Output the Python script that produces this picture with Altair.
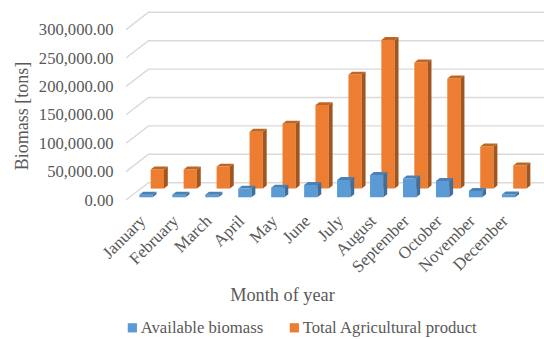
import altair as alt
import pandas as pd

months = ["January", "February", "March", "April", "May", "June", "July",
          "August", "September", "October", "November", "December"]
available_biomass = [4700, 4700, 4700, 15300, 17000, 21800, 30600, 39400, 33000, 28900, 11300, 5000]
total_agricultural = [33500, 33500, 38700, 100000, 114000, 147000, 200700, 261600, 222000, 193700, 74000, 40500]
grid_values = [0, 50000, 100000, 150000, 200000, 250000, 300000]

series_names = ["Available biomass", "Total Agricultural product"]
front_colors = ["#5B9BD5", "#ED7D31"]
top_colors = ["#4A82B6", "#C2651F"]
side_colors = ["#3F6F9C", "#A0561E"]

# Oblique projection: one unit of depth moves a point right and up the chart
DEPTH_X = 0.683      # months
DEPTH_Y = 30500      # tons
BAR_WIDTH = 0.404    # months
BAR_DEPTH = 0.17     # fraction of the floor depth
series_depth = {"Available biomass": 0.156, "Total Agricultural product": 0.66}

x_scale = alt.Scale(domain=[0, 12 + DEPTH_X], range=[0, 418], nice=False, zero=False)
y_scale = alt.Scale(domain=[0, 331000], range=[188, 0], nice=False, zero=False)
FONT = "Liberation Serif"
INK = "#595959"

# Month axis under the floor, value axis on the front edge
x_axis = alt.Axis(
    values=[i + 0.5 for i in range(12)],
    labelExpr="{0}[floor(datum.value)]".format(str(months)),
    labelAngle=-45, labelAlign="right", labelBaseline="middle",
    labelFont=FONT, labelFontSize=17, labelColor=INK, labelPadding=18, labelOffset=0,
    labelOverlap=False, labelBound=False, labelFlush=False,
    domain=False, ticks=False, grid=False,
    titleFont=FONT, titleFontSize=18.3, titleFontWeight="normal", titleColor=INK,
    titleX=156, titleY=95, titleAlign="center", titleBaseline="middle",
)
y_axis = alt.Axis(
    values=grid_values, format=",.2f",
    labelFont=FONT, labelFontSize=16.6, labelColor=INK, labelPadding=13,
    domain=False, ticks=False, grid=False,
    titleFont=FONT, titleFontSize=18, titleFontWeight="normal", titleColor=INK,
    titleX=-104, titleY=103.5, titleAlign="center", titleBaseline="middle",
)


def faces(name, values):
    """Front, top and side faces of one series, in data units."""
    d0 = series_depth[name]
    d1 = d0 + BAR_DEPTH
    front, top, side = [], [], []
    for i, v in enumerate(values):
        left = i + 0.5 - BAR_WIDTH / 2 + d0 * DEPTH_X
        right = left + BAR_WIDTH
        shift_x = BAR_DEPTH * DEPTH_X
        base0, base1 = d0 * DEPTH_Y, d1 * DEPTH_Y
        front.append(dict(series=name, x=left, x2=right, y=base0, y2=base0 + v))
        top.append(dict(series=name, key=i, y=base0 + v, x=left, x2=right))
        top.append(dict(series=name, key=i, y=base1 + v, x=left + shift_x, x2=right + shift_x))
        side.append(dict(series=name, key=i, x=right, y=base0, y2=base0 + v))
        side.append(dict(series=name, key=i, x=right + shift_x, y=base1, y2=base1 + v))
    return pd.DataFrame(front), pd.DataFrame(top), pd.DataFrame(side)


def x_enc():
    return alt.X("x:Q", scale=x_scale, axis=x_axis, title="Month of year")


def y_enc():
    return alt.Y("y:Q", scale=y_scale, axis=y_axis, title="Biomass [tons]")


# Wall gridlines run from the front edge, back over the side wall and along the rear wall
grid_rows = []
for v in grid_values:
    grid_rows.append(dict(level=v, x=0, y=v, step=0))
    grid_rows.append(dict(level=v, x=DEPTH_X, y=v + DEPTH_Y, step=1))
    grid_rows.append(dict(level=v, x=12 + DEPTH_X, y=v + DEPTH_Y, step=2))

grid = alt.Chart(pd.DataFrame(grid_rows)).mark_line(color="#D9D9D9", strokeWidth=1.4).encode(
    x=x_enc(), y=y_enc(), detail="level:N", order="step:Q"
)

layers = [grid]
legend = alt.Legend(
    orient="none", legendX=-2, legendY=307, direction="horizontal", columns=2, title=None,
    symbolType="square", symbolSize=85, symbolStrokeWidth=0, columnPadding=22,
    labelFont=FONT, labelFontSize=16.7, labelColor=INK, labelOffset=0, labelLimit=300,
)

# Rear series first so the nearer bars cover it
for idx in [1, 0]:
    name = series_names[idx]
    vals = [available_biomass, total_agricultural][idx]
    front, top, side = faces(name, vals)
    front_layer = alt.Chart(front).mark_bar(stroke=None).encode(
        x=x_enc(), x2="x2:Q", y=y_enc(), y2="y2:Q",
        color=alt.Color("series:N", legend=legend,
                        scale=alt.Scale(domain=series_names, range=front_colors)),
    )
    top_layer = alt.Chart(top).mark_area(orient="horizontal", color=top_colors[idx]).encode(
        y=y_enc(), x=x_enc(), x2="x2:Q", detail="key:N"
    )
    side_layer = alt.Chart(side).mark_area(color=side_colors[idx]).encode(
        x=x_enc(), y=y_enc(), y2="y2:Q", detail="key:N"
    )
    layers += [front_layer, top_layer, side_layer]

chart = alt.layer(*layers).properties(
    width=418, height=188,
    autosize=alt.AutoSizeParams(type="none"),
    padding={"left": 126, "top": 12, "right": 0, "bottom": 139},
    background="white",
).configure_view(stroke=None)

chart.save("out.html", embed_options={"renderer": "svg", "actions": False})
